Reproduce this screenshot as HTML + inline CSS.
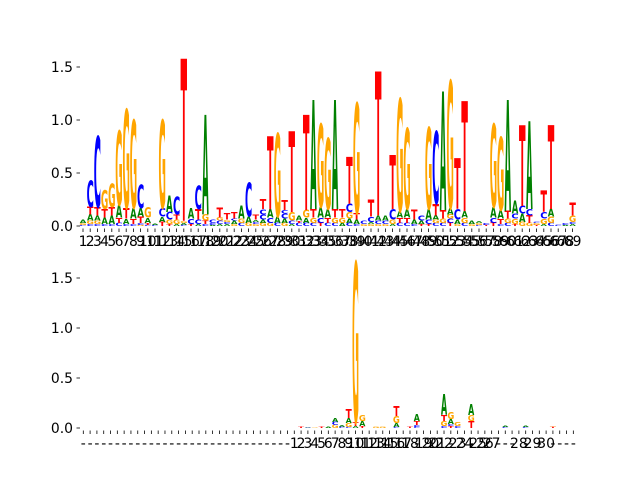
<!DOCTYPE html>
<html><head><meta charset="utf-8"><style>
html,body{margin:0;padding:0;background:#fff;}
svg{display:block;}
text{font-family:"DejaVu Sans","Liberation Sans",sans-serif;}
</style></head><body>
<svg id="chart" width="640" height="480" xmlns="http://www.w3.org/2000/svg">
<g id="top"></g>
<g id="bot"></g>
</svg>
<script>
const topStacks = ["C.01 G.02 A.03","C.02 G.03 A.06 T.07 C.25","C.02 G.03 A.05 T.08 C.67","C.02 A.06 T.08 G.18","C.02 A.08 T.08 G.22","C.03 T.05 A.12 G.7","C.02 A.05 T.1 G.93","C.02 T.05 A.1 G.83","G.01 C.02 T.06 A.08 C.22","C.01 T.02 A.05 G.1","C.01 A.01","T.04 A.05 C.08 G.83","T.02 G.04 C.07 A.15","A.02 G.04 T.05 C.17","C.01 A.02 G.02 T1.53","T.02 C.05 A.1","A.02 C.04 T.1 C.22","C.02 T.03 G.06 A.94","A.01 C.02 C.03","A.02 C.03 G.03 T.09","A.02 C.02 G.02 T.06","G.02 A.03 C.02 T.06","C.03 G.04 A.12","G.03 A.06 C.32","G.02 C.02 A.02 T.05","G.03 A.03 C.05 C.05 T.09","G.03 C.05 A.08 T.69","C.03 A.06 G.78","G.03 A.04 C.05 C.03 T.09","A.02 C.03 G.08 T.76","C.03 T.02 A.05","C.03 A.05 G.07 T.9","C.03 G.05 T.08 A1.03","T.03 C.05 A.1 G.78","C.03 T.05 A.08 G.67","C.03 G.05 T.08 A1.03","A.03 G.05 T.08","C.03 A.04 G.06 C.08 T.44","C.02 A.04 T.06 G1.04","G.02 C.03","G.02 A.02 C.05 T.16","G.02 C.03 A.05 T1.36","G.02 C.03 A.05","A.02 G.04 C.1 T.51","C.03 T.05 A.06 G1.06","C.03 T.05 A.08 G.76","C.02 A.04 T.09","T.02 A.03 C.05","T.02 C.04 A.1 G.77","C.03 G.03 A.04 T.11 C.68","C.03 G.04 T.08 A1.12","T.03 C.04 G.04 A.06 G1.2","G.02 A.04 C.1 T.48","C.03 G.05 A.06 T1.04","G.02 A.03","C.01 G.02 A.02","T.01 C.02","T.03 C.05 A.1 G.78","C.02 T.05 A.08 G.69","C.03 G.04 T.07 A1.05","T.02 G.05 C.05 A.12","G.04 A.08 C.07 T.76","G.03 T.07 C.06 A.83","T.01 G.02 C.01","A.02 G.05 C.06 T.2","C.03 G.06 A.07 T.79","C.01","A.01 C.02","A.02 C.02 G.06 T.12"];
const topTickLabels = topStacks.map((s,i)=>String(i+1));
const botIndex = [32,33,34,35,36,37,38,39,40,41,43,44,46,48,49,53,54,55,57,62,65,69];
const botStacks = ["T.01","C.005 A.005","G.005","T.01","A.01","G.03 C.03 A.04","C.01 A.02","C.01 G.04 A.05 T.09","A.02 T.04 G1.6","T.02 A.05 G.06","G.01","G.01","C.01 A.04 G.07 T.1","T.01","C.01 C.02 T.04 A.07","C.02 G.05 T.06 A.21","T.02 C.02 A.05 G.07","C.02 G.04","T.07 G.06 A.11","C.01 A.01","C.01 A.01","T.01 G.005"];
const botTickLabels = [];
for(let i=0;i<31;i++) botTickLabels.push("-");
for(let n=1;n<=18;n++) botTickLabels.push(String(n));
botTickLabels.push("-");
["19","20","21","22","-","23","24","-","25","26","27","-","-","-","28","-","29","-","30","-","-","-","-"].forEach(s=>botTickLabels.push(s));
const yTicks = [0,0.5,1.0,1.5];
const yTickLabels = ["0.0","0.5","1.0","1.5"];

const NS="http://www.w3.org/2000/svg";
const COLORS={A:"#008000",C:"#0000ff",G:"#ffa500",T:"#ff0000"};
const INK={A:77,C:66,G:72,T:68};
function mk(tag,parent){const e=document.createElementNS(NS,tag);parent.appendChild(e);return e;}

function drawPanel(g, cfg, positions, stacks, tickLabels){
  const xs = i => cfg.x0 + cfg.dx*i;
  const ys = v => cfg.y0 - cfg.k*v;
  // y axis
  yTicks.forEach((v,j)=>{
    const l=mk("line",g);
    
    
    l.setAttribute("x1",76.5);l.setAttribute("x2",80);l.setAttribute("y1",ys(v));l.setAttribute("y2",ys(v));
    l.setAttribute("stroke","#000");l.setAttribute("stroke-width","0.8");
    const t=mk("text",g);
    
    
    t.setAttribute("x",73);t.setAttribute("y",ys(v)+5);t.setAttribute("text-anchor","end");
    t.setAttribute("font-size","13.9");t.textContent=yTickLabels[j];
  });
  // x ticks
  tickLabels.forEach((s,i)=>{
    const l=mk("line",g);
    
    
    l.setAttribute("x1",xs(i));l.setAttribute("x2",xs(i));l.setAttribute("y1",cfg.y0+2.5);l.setAttribute("y2",cfg.y0+6);
    l.setAttribute("stroke","#000");l.setAttribute("stroke-width","0.8");
    const t=mk("text",g);
    
    
    t.setAttribute("x",xs(i));t.setAttribute("y",cfg.y0+20);t.setAttribute("text-anchor","middle");
    t.setAttribute("font-size","13.9");t.textContent=s;
  });
  // letters
  positions.forEach((p,j)=>{
    let base=0;
    stacks[j].trim().split(/\s+/).forEach(tok=>{
      const L=tok[0], h=parseFloat(tok.slice(1));
      const hpx=cfg.k*h;
      const t=mk("text",g);
      
      
      t.setAttribute("x",0);t.setAttribute("y",0);t.setAttribute("text-anchor","middle");
      t.setAttribute("font-size","100");t.setAttribute("font-weight","bold");
      t.setAttribute("fill",COLORS[L]);
      const sx=cfg.w/INK[L], sy=hpx/73;
      t.setAttribute("transform","translate("+xs(p)+","+ys(base)+") scale("+sx+","+sy+")");
      t.textContent=L;
      base+=h;
    });
  });
}
drawPanel(document.getElementById("top"),{x0:83,dx:7.2,y0:226,k:106,w:6.5},topStacks.map((s,i)=>i),topStacks,topTickLabels);
drawPanel(document.getElementById("bot"),{x0:83.3,dx:6.806,y0:428,k:100,w:6.1},botIndex,botStacks,botTickLabels);
</script>
</body></html>
